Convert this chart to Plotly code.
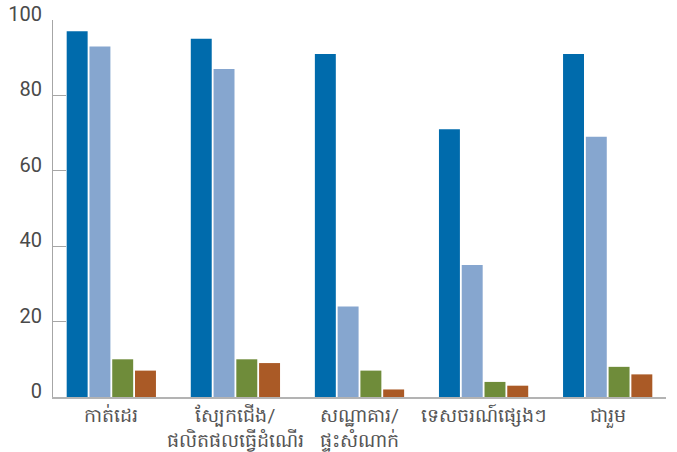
import plotly.graph_objects as go

categories = ["កាត់ដេរ", "ស្បែកជើង/<br>ផលិតផលធ្វើដំណើរ", "សណ្ឋាគារ/<br>ផ្ទះសំណាក់", "ទេសចរណ៍ផ្សេងៗ", "ជារួម"]
series1 = [97, 95, 91, 71, 91]
series2 = [93, 87, 24, 35, 69]
series3 = [10, 10, 7, 4, 8]
series4 = [7, 9, 2, 3, 6]
colors = ["#006BAC", "#86A6CF", "#6F8C3A", "#AA5A26"]
names = ["Series 1", "Series 2", "Series 3", "Series 4"]

fig = go.Figure()
for vals, c, n in zip([series1, series2, series3, series4], colors, names):
    fig.add_trace(go.Bar(x=list(range(len(categories))), y=vals, name=n,
                         marker=dict(color=c, line=dict(width=0))))

font_family = "Roboto, Noto Sans, sans-serif"
fig.update_layout(
    width=677, height=452,
    margin=dict(l=53, r=11, t=20, b=55),
    paper_bgcolor="white", plot_bgcolor="white",
    barmode="group", bargap=0.266, bargroupgap=0.08,
    showlegend=False,
    font=dict(family=font_family, color="#444444"),
)
fig.update_xaxes(
    tickmode="array", tickvals=list(range(len(categories))), ticktext=categories,
    range=[-0.47, 4.47], showgrid=False, zeroline=False,
    showline=True, linecolor="#b3b3b3", linewidth=2,
    ticks="", tickfont=dict(size=19, color="#555555"),
    ticklabelstandoff=0,
    automargin=False,
)
fig.update_yaxes(
    range=[0, 100], tickvals=[0, 20, 40, 60, 80, 100],
    showgrid=False, zeroline=False,
    showline=True, linecolor="#a6a6a6", linewidth=1,
    ticks="inside", ticklen=13, tickcolor="#a6a6a6", tickwidth=1,
    tickfont=dict(size=20, color="#4a4a4a"),
    ticklabelstandoff=6, ticklabelshift=-6,
    automargin=False,
)
fig.write_html("out.html", post_script="document.body.style.margin='0';",
               config={"displayModeBar": False})
